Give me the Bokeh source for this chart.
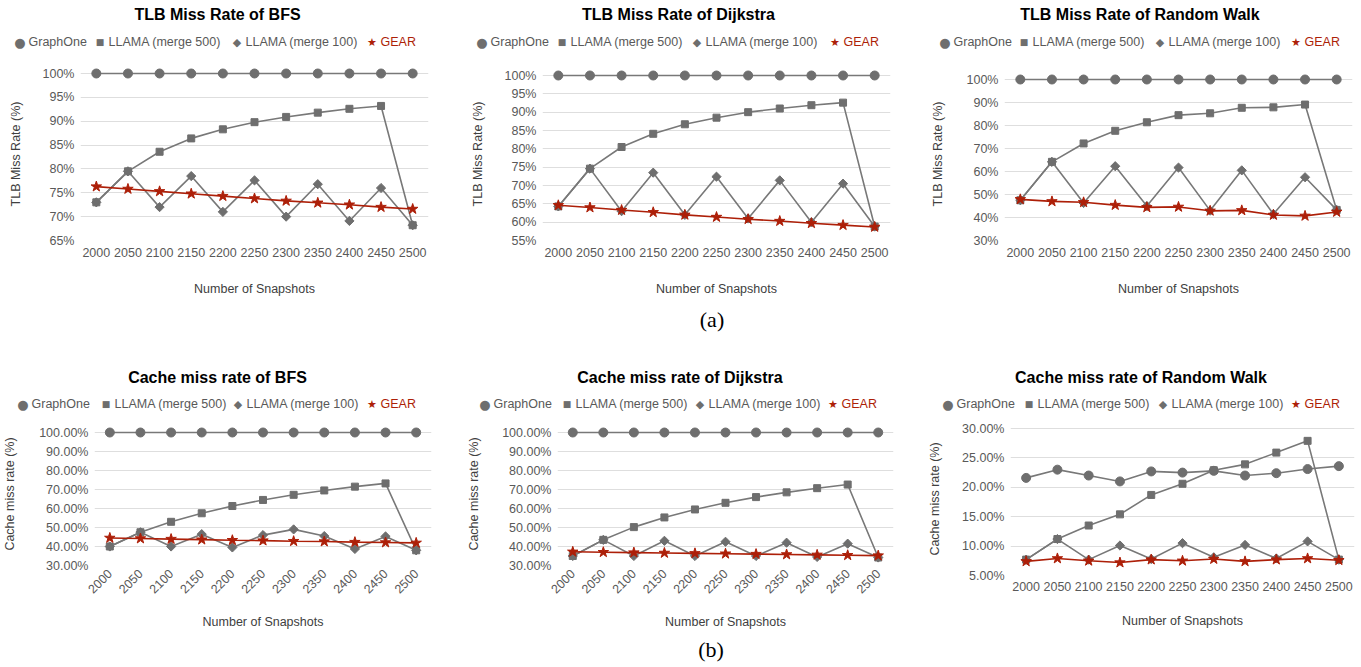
import math
from bokeh.plotting import figure
from bokeh.models import FactorRange, Range1d, FixedTicker, PrintfTickFormatter, Div
from bokeh.layouts import column, row
from bokeh.embed import file_html
from bokeh.resources import INLINE

# ---------------- data ----------------
snapshots = ["2000", "2050", "2100", "2150", "2200", "2250", "2300", "2350", "2400", "2450", "2500"]
series_names = ["GraphOne", "LLAMA (merge 500)", "LLAMA (merge 100)", "GEAR"]

tlb_bfs_graphone = [100, 100, 100, 100, 100, 100, 100, 100, 100, 100, 100]
tlb_bfs_llama500 = [73.0, 79.5, 83.6, 86.4, 88.3, 89.8, 90.9, 91.8, 92.6, 93.2, 68.2]
tlb_bfs_llama100 = [73.0, 79.5, 72.0, 78.5, 71.0, 77.6, 70.0, 76.8, 69.1, 76.0, 68.2]
tlb_bfs_gear = [76.3, 75.8, 75.3, 74.8, 74.3, 73.8, 73.3, 72.9, 72.5, 72.0, 71.6]

tlb_dij_graphone = [100, 100, 100, 100, 100, 100, 100, 100, 100, 100, 100]
tlb_dij_llama500 = [64.3, 74.6, 80.5, 84.1, 86.7, 88.5, 90.0, 91.0, 91.9, 92.6, 58.8]
tlb_dij_llama100 = [64.3, 74.6, 63.0, 73.5, 62.0, 72.4, 61.0, 71.4, 60.0, 70.5, 58.8]
tlb_dij_gear = [64.6, 64.0, 63.3, 62.7, 62.0, 61.4, 60.8, 60.3, 59.7, 59.2, 58.7]

tlb_rw_graphone = [100, 100, 100, 100, 100, 100, 100, 100, 100, 100, 100]
tlb_rw_llama500 = [47.5, 64.2, 72.2, 77.7, 81.4, 84.5, 85.3, 87.7, 87.9, 89.1, 43.3]
tlb_rw_llama100 = [47.5, 64.2, 46.3, 62.3, 45.0, 61.7, 43.0, 60.5, 41.5, 57.5, 43.3]
tlb_rw_gear = [47.9, 47.0, 46.6, 45.4, 44.4, 44.6, 42.9, 43.1, 41.1, 40.7, 42.4]

cache_bfs_graphone = [100, 100, 100, 100, 100, 100, 100, 100, 100, 100, 100]
cache_bfs_llama500 = [40.0, 47.5, 53.0, 57.5, 61.3, 64.5, 67.2, 69.5, 71.5, 73.2, 38.0]
cache_bfs_llama100 = [40.0, 47.5, 40.0, 46.5, 39.5, 46.0, 49.0, 45.5, 38.7, 45.3, 38.0]
cache_bfs_gear = [44.5, 44.2, 43.9, 43.6, 43.3, 43.1, 42.8, 42.6, 42.3, 42.1, 41.9]

cache_dij_graphone = [100, 100, 100, 100, 100, 100, 100, 100, 100, 100, 100]
cache_dij_llama500 = [35.0, 43.5, 50.2, 55.3, 59.5, 63.0, 66.0, 68.5, 70.7, 72.6, 34.2]
cache_dij_llama100 = [35.0, 43.5, 35.0, 43.0, 35.0, 42.5, 35.0, 42.0, 34.5, 41.5, 34.2]
cache_dij_gear = [37.2, 37.0, 36.8, 36.6, 36.4, 36.2, 36.0, 35.8, 35.6, 35.4, 35.2]

cache_rw_graphone = [21.6, 23.0, 22.0, 21.0, 22.7, 22.5, 22.8, 22.0, 22.4, 23.1, 23.6]
cache_rw_llama500 = [7.7, 11.2, 13.5, 15.4, 18.7, 20.6, 22.9, 23.9, 25.9, 27.9, 7.7]
cache_rw_llama100 = [7.7, 11.2, 7.7, 10.1, 7.8, 10.5, 8.1, 10.2, 7.9, 10.8, 7.7]
cache_rw_gear = [7.4, 7.9, 7.5, 7.2, 7.7, 7.5, 7.8, 7.4, 7.7, 7.9, 7.6]

tlb_ticks_bfs = [65, 70, 75, 80, 85, 90, 95, 100]
tlb_ticks_dij = [55, 60, 65, 70, 75, 80, 85, 90, 95, 100]
tlb_ticks_rw = [30, 40, 50, 60, 70, 80, 90, 100]
cache_ticks_big = [30, 40, 50, 60, 70, 80, 90, 100]
cache_ticks_rw = [5, 10, 15, 20, 25, 30]

# ---------------- styles ----------------
FONT = "Liberation Sans"
GRAY = "#6e6e6e"
LINE_GRAY = "#787878"
RED = "#ad1f08"
TEXT_GRAY = "#595959"

markers = ["circle", "square", "square", "star"]
marker_angles = [0, 0, math.pi / 4, 0]
marker_sizes = [9, 7, 6.5, 11]
colors = [GRAY, GRAY, GRAY, RED]
line_colors = [LINE_GRAY, LINE_GRAY, LINE_GRAY, RED]
legend_chars = ["&#9679;", "&#9632;", "&#9670;", "&#9733;"]
legend_char_sizes = [13, 9, 11, 11]

W = 1360
# row geometry: (figure top, figure height, common frame top)
TOP_ROW = (60, 248, 67)
BOT_ROW = (418, 220, 422)

panels = [
    dict(title="TLB Miss Rate of BFS", ylabel="TLB Miss Rate (%)",
         series=[tlb_bfs_graphone, tlb_bfs_llama500, tlb_bfs_llama100, tlb_bfs_gear],
         yrange=(65, 100), ticks=tlb_ticks_bfs, fmt="%d%%", rot=False, rowg=TOP_ROW,
         fig_x=(0, 456), frame_x=(80, 428), grid_y=(73, 240),
         title_pos=(217.5, 15), leg_y=42, leg_x=[20, 100, 237, 372], ylab_standoff=17, xlab=(7, 22)),
    dict(title="TLB Miss Rate of Dijkstra", ylabel="TLB Miss Rate (%)",
         series=[tlb_dij_graphone, tlb_dij_llama500, tlb_dij_llama100, tlb_dij_gear],
         yrange=(55, 100), ticks=tlb_ticks_dij, fmt="%d%%", rot=False, rowg=TOP_ROW,
         fig_x=(456, 454), frame_x=(542, 890), grid_y=(75, 240),
         title_pos=(678.5, 15), leg_y=42, leg_x=[482, 562, 697, 835], ylab_standoff=17, xlab=(7, 22)),
    dict(title="TLB Miss Rate of Random Walk", ylabel="TLB Miss Rate (%)",
         series=[tlb_rw_graphone, tlb_rw_llama500, tlb_rw_llama100, tlb_rw_gear],
         yrange=(30, 100), ticks=tlb_ticks_rw, fmt="%d%%", rot=False, rowg=TOP_ROW,
         fig_x=(910, 450), frame_x=(1004, 1352), grid_y=(79, 240),
         title_pos=(1140, 15), leg_y=42, leg_x=[945, 1024, 1160, 1296], ylab_standoff=19, xlab=(7, 22)),
    dict(title="Cache miss rate of BFS", ylabel="Cache miss rate (%)",
         series=[cache_bfs_graphone, cache_bfs_llama500, cache_bfs_llama100, cache_bfs_gear],
         yrange=(30, 100), ticks=cache_ticks_big, fmt="%.2f%%", rot=True, rowg=BOT_ROW,
         fig_x=(0, 460), frame_x=(92, 429), grid_y=(432, 565),
         title_pos=(217.5, 378), leg_y=404, leg_x=[23, 106, 238, 372], ylab_standoff=19, xlab=(6, 14)),
    dict(title="Cache miss rate of Dijkstra", ylabel="Cache miss rate (%)",
         series=[cache_dij_graphone, cache_dij_llama500, cache_dij_llama100, cache_dij_gear],
         yrange=(30, 100), ticks=cache_ticks_big, fmt="%.2f%%", rot=True, rowg=BOT_ROW,
         fig_x=(460, 446), frame_x=(555, 891), grid_y=(432, 565),
         title_pos=(680, 378), leg_y=404, leg_x=[485, 567, 700, 833], ylab_standoff=18, xlab=(6, 14)),
    dict(title="Cache miss rate of Random Walk", ylabel="Cache miss rate (%)",
         series=[cache_rw_graphone, cache_rw_llama500, cache_rw_llama100, cache_rw_gear],
         yrange=(5, 30), ticks=cache_ticks_rw, fmt="%.2f%%", rot=False, rowg=BOT_ROW,
         fig_x=(906, 454), frame_x=(1008, 1352), grid_y=(428, 575),
         title_pos=(1141, 378), leg_y=404, leg_x=[948, 1029, 1163, 1296], ylab_standoff=17, xlab=(6, 20)),
]


def make_panel(spec):
    fx, fw = spec["fig_x"]
    fl, fr = spec["frame_x"]
    fy, fh, ftop = spec["rowg"]
    gt, gb = spec["grid_y"]          # pixel rows of the top and bottom gridlines
    lo, hi = spec["yrange"]
    per_px = (hi - lo) / (gb - gt)
    pad = gt - ftop
    p = figure(x_range=FactorRange(factors=snapshots), y_range=Range1d(lo, hi + pad * per_px),
               width=fw, height=fh, frame_width=fr - fl, frame_height=gb - ftop,
               min_border_left=fl - fx, min_border_right=fx + fw - fr,
               min_border_top=ftop - fy, min_border_bottom=fy + fh - gb,
               toolbar_location=None, output_backend="svg", title=None)
    p.outline_line_color = None
    p.background_fill_color = "white"
    p.border_fill_color = "white"
    p.xgrid.visible = False
    p.ygrid.ticker = FixedTicker(ticks=spec["ticks"])
    p.ygrid.grid_line_color = "#dedede"
    p.ygrid.grid_line_width = 1.2

    for ax in (p.xaxis[0], p.yaxis[0]):
        ax.axis_line_color = None
        ax.major_tick_line_color = None
        ax.minor_tick_line_color = None
        ax.major_tick_in = 0
        ax.major_tick_out = 0
        ax.major_label_text_font = FONT
        ax.major_label_text_font_size = "12.5px"
        ax.major_label_text_color = TEXT_GRAY
        ax.axis_label_text_font = FONT
        ax.axis_label_text_font_size = "12.5px"
        ax.axis_label_text_font_style = "normal"
        ax.axis_label_text_color = "#404040"

    p.yaxis.ticker = FixedTicker(ticks=spec["ticks"])
    p.yaxis.formatter = PrintfTickFormatter(format=spec["fmt"])
    p.yaxis.axis_label = spec["ylabel"]
    p.yaxis.major_label_standoff = 6
    p.yaxis.axis_label_standoff = spec["ylab_standoff"]
    p.xaxis.axis_label = "Number of Snapshots"
    p.xaxis.major_label_standoff = spec["xlab"][0]
    p.xaxis.axis_label_standoff = spec["xlab"][1]
    if spec["rot"]:
        p.xaxis.major_label_orientation = math.pi / 4

    for vals, mk, ang, ms, c, lc in zip(spec["series"], markers, marker_angles, marker_sizes,
                                         colors, line_colors):
        p.line(x=snapshots, y=vals, line_color=lc, line_width=1.6)
        p.scatter(x=snapshots, y=vals, marker=mk, angle=ang, size=ms, fill_color=c, line_color=c)
    return p


def span(x, y, text, style, anchor="center"):
    tx = "-50%" if anchor == "center" else "0"
    return ('<span style="position:absolute;left:%.1fpx;top:%.1fpx;transform:translate(%s,-50%%);'
            'white-space:nowrap;line-height:1;%s">%s</span>' % (x, y, tx, style, text))


def header_html(spec, y0):
    out = []
    tx, ty = spec["title_pos"]
    out.append(span(tx, ty - y0, spec["title"],
                    "font-family:'%s';font-size:16px;font-weight:bold;color:#000" % FONT))
    ly = spec["leg_y"] - y0
    for i, gx in enumerate(spec["leg_x"]):
        out.append(span(gx, ly, legend_chars[i],
                        "font-family:'DejaVu Sans';font-size:%dpx;color:%s" % (legend_char_sizes[i], colors[i])))
        tc = RED if i == 3 else TEXT_GRAY
        out.append(span(gx + 8.5, ly, series_names[i],
                        "font-family:'%s';font-size:12.5px;color:%s" % (FONT, tc), anchor="left"))
    return "".join(out)


def block(h, parts):
    html = ('<div style="position:relative;width:%dpx;height:%dpx;overflow:hidden">%s</div>'
            % (W, h, "".join(parts)))
    return Div(text=html, width=W, height=h, margin=0)


cap_style = "font-family:'Liberation Serif';font-size:22px;color:#000"

top_head = block(60, [header_html(s, 0) for s in panels[:3]])
mid = block(110, [span(712, 320 - 308, "(a)", cap_style)] + [header_html(s, 308) for s in panels[3:]])
bottom = block(28, [span(711, 650 - 638, "(b)", cap_style)])

figs = [make_panel(s) for s in panels]
layout = column(top_head, row(*figs[:3], spacing=0), mid, row(*figs[3:], spacing=0), bottom, spacing=0)

open("out.html", "w").write(file_html(layout, INLINE))
